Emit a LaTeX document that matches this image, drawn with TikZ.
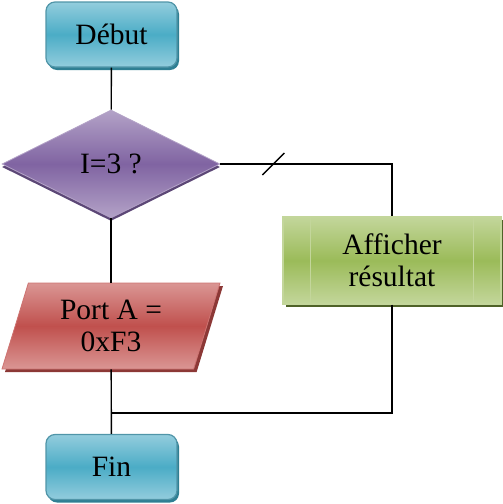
\documentclass[tikz,border=0pt]{standalone}
\usepackage{fontspec}
\setmainfont{Liberation Serif}
\usetikzlibrary{shapes.geometric,shadows,calc}
\definecolor{termMid}{HTML}{4BACC6}
\definecolor{termLight}{HTML}{93CDDD}
\definecolor{termDark}{HTML}{2F7F93}
\definecolor{testMid}{HTML}{8064A2}
\definecolor{testLight}{HTML}{B3A2C7}
\definecolor{testDark}{HTML}{5C4776}
\definecolor{ioMid}{HTML}{C0504D}
\definecolor{ioLight}{HTML}{DA9694}
\definecolor{ioDark}{HTML}{8C3836}
\definecolor{procMid}{HTML}{9BBB59}
\definecolor{procLight}{HTML}{C3D69B}
\definecolor{procDark}{HTML}{4F6228}

\tikzset{
 box/.style={inner sep=0pt,align=center,font=\fontsize{29.5}{32}\selectfont},
 term/.style={box,rectangle,rounded corners=9pt,minimum width=131pt,minimum height=65pt,
  draw=termMid!80!black!90,line width=1.2pt,top color=termLight,bottom color=termLight,middle color=termMid,
  drop shadow={shadow xshift=2pt,shadow yshift=-3pt,fill=termDark,opacity=1}},
 testbox/.style={box,diamond,aspect=2,minimum width=218pt,minimum height=108pt,
  draw=testLight,line width=.8pt,top color=testLight,bottom color=testLight,middle color=testMid,
  drop shadow={shadow xshift=0pt,shadow yshift=-3pt,fill=testDark,opacity=1}},
 iobox/.style={box,trapezium,trapezium left angle=63,trapezium right angle=117,trapezium stretches body,
  minimum width=218pt,minimum height=86pt,
  draw=ioMid!80!white,line width=.8pt,top color=ioLight,bottom color=ioLight,middle color=ioMid,
  drop shadow={shadow xshift=3pt,shadow yshift=-3pt,fill=ioDark,opacity=1}},
 procbox/.style={box,rectangle,minimum width=218pt,minimum height=87pt,
  draw=procLight,line width=1.2pt,top color=procLight,bottom color=procLight,middle color=procMid,
  drop shadow={shadow xshift=3pt,shadow yshift=-3pt,fill=procDark,opacity=1}},
 link/.style={draw=black,line width=1.4pt}
}

\begin{document}
\begin{tikzpicture}[x=1pt,y=-1pt]
\useasboundingbox (0,0) rectangle (503,504);
\node[term] (debut) at (111.5,34.5) {Début};
\node[testbox] (test) at (111,164) {I=3 ?};
\node[iobox] (port) at (111,326) {Port A =\\0xF3};
\node[procbox] (aff) at (392,260.5) {Afficher\\résultat};
\node[term] (fin) at (111.5,467) {Fin};
% inner bars of the process box
\foreach \dx in {28,191}
 \draw[procLight,line width=1.2pt] ($(aff.north west)+(\dx,0)$) -- ($(aff.south west)+(\dx,0)$);
\coordinate (join) at (111,413);
\draw[link] (debut) -- (test);
\draw[link] (test.east) -| coordinate[pos=.154] (cut) (aff.north);
\draw[link] ($(cut)+(-11,11)$) -- ($(cut)+(11,-11)$);
\draw[link] (test) -- (port);
\draw[link] (port) -- (fin);
\draw[link] (aff.south) |- (join);
\end{tikzpicture}
\end{document}
